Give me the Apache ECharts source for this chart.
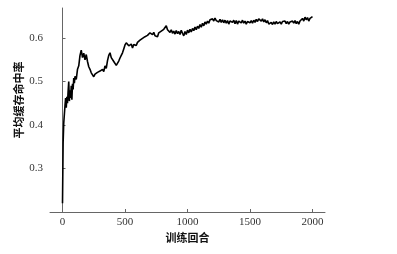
<!DOCTYPE html>
<html>
<head>
<meta charset="utf-8">
<script src="https://cdn.jsdelivr.net/npm/echarts@6/dist/echarts.min.js"></script>
<style>
html,body{margin:0;padding:0;background:#fff;}
#chart{width:397px;height:254px;}
</style>
</head>
<body>
<div id="chart"></div>
<script>
var episodes = [0,5,10,15,20,25,30,35,40,45,50,55,60,65,70,75,80,85,90,95,100,
110,120,130,140,150,160,170,180,190,200,210,220,230,240,250,260,270,280,290,300,
310,320,330,340,350,360,370,380,390,400,410,420,430,440,450,460,470,480,490,500,
510,520,530,540,550,560,570,580,590,600,610,620,630,640,650,660,670,680,690,700,
710,720,730,740,750,760,770,780,790,800,810,820,830,840,850,860,870,880,890,900,
910,920,930,940,950,960,970,980,990,1000,1010,1020,1030,1040,1050,1060,1070,1080,1090,1100,
1110,1120,1130,1140,1150,1160,1170,1180,1190,1200,1210,1220,1230,1240,1250,1260,1270,1280,1290,1300,
1310,1320,1330,1340,1350,1360,1370,1380,1390,1400,1410,1420,1430,1440,1450,1460,1470,1480,1490,1500,
1510,1520,1530,1540,1550,1560,1570,1580,1590,1600,1610,1620,1630,1640,1650,1660,1670,1680,1690,1700,
1710,1720,1730,1740,1750,1760,1770,1780,1790,1800,1810,1820,1830,1840,1850,1860,1870,1880,1890,1900,
1910,1920,1930,1940,1950,1960,1970,1980,1990,2000];

var hitRate = [0.220,0.360,0.405,0.425,0.445,0.462,0.440,0.465,0.450,0.478,0.500,0.455,0.480,0.462,0.490,0.458,0.495,0.482,0.508,0.496,0.512,
0.505,0.528,0.536,0.560,0.572,0.555,0.565,0.550,0.562,0.546,0.534,0.528,0.520,0.516,0.511,0.517,0.513,0.521,0.517,0.524,
0.520,0.528,0.523,0.536,0.530,0.548,0.560,0.566,0.555,0.553,0.546,0.545,0.537,0.535,0.547,0.554,0.560,0.566,0.575,0.584,
0.589,0.585,0.582,0.578,0.586,0.577,0.585,0.586,0.583,0.590,0.586,0.595,0.591,0.599,0.595,0.603,0.599,0.606,0.606,0.612,
0.615,0.608,0.613,0.605,0.609,0.603,0.612,0.608,0.616,0.612,0.620,0.622,0.628,0.619,0.618,0.613,0.619,0.611,0.616,0.609,
0.617,0.610,0.615,0.608,0.618,0.611,0.605,0.615,0.608,0.618,0.612,0.620,0.614,0.622,0.617,0.625,0.619,0.627,0.622,0.631,
0.625,0.634,0.628,0.637,0.632,0.639,0.634,0.642,0.638,0.644,0.639,0.646,0.640,0.644,0.637,0.643,0.636,0.642,0.635,0.641,
0.634,0.640,0.632,0.639,0.643,0.636,0.641,0.633,0.640,0.632,0.639,0.642,0.635,0.641,0.634,0.639,0.632,0.638,0.641,0.635,
0.640,0.634,0.641,0.636,0.643,0.638,0.644,0.646,0.639,0.644,0.637,0.642,0.635,0.640,0.632,0.630,0.636,0.631,0.637,0.632,
0.638,0.633,0.631,0.637,0.632,0.638,0.634,0.639,0.633,0.638,0.632,0.637,0.633,0.639,0.634,0.640,0.633,0.638,0.632,0.639,
0.642,0.645,0.639,0.648,0.642,0.647,0.639,0.645,0.641,0.649];

var xTicks = [0,500,1000,1500,2000];
var yTicks = [0.3,0.4,0.5,0.6];
var xName = '训练回合';
var yName = '平均缓存命中率';

var data = episodes.map(function(e,i){return [e, hitRate[i]];});

var chart = echarts.init(document.getElementById('chart'), null, {renderer:'canvas'});
var labelStyle = {fontFamily:'Liberation Serif', fontSize:11, color:'#333'};
chart.setOption({
  animation:false,
  backgroundColor:'#fff',
  grid:{left:50, right:72, top:8, bottom:42, containLabel:false},
  xAxis:{
    type:'value', min:-100, max:2100,
    name:xName, nameLocation:'middle', nameGap:20, nameMoveOverlap:false,
    nameTextStyle:{fontFamily:'Noto Sans CJK SC', fontSize:11, fontWeight:'bold', color:'#111'},
    axisLine:{show:true, lineStyle:{color:'#666', width:1}},
    axisTick:{show:true, inside:true, length:3, customValues:xTicks, lineStyle:{color:'#666'}},
    axisLabel:Object.assign({customValues:xTicks, margin:5, formatter:function(v){return String(v);}}, labelStyle),
    splitLine:{show:false}
  },
  yAxis:{
    type:'value', min:0.2, max:0.669,
    name:yName, nameLocation:'middle', nameGap:26, nameRotate:90, nameMoveOverlap:false,
    nameTextStyle:{fontFamily:'Noto Sans CJK SC', fontSize:11, fontWeight:'bold', color:'#111', padding:[0,0,0,20]},
    axisLine:{show:true, lineStyle:{color:'#666', width:1}},
    axisTick:{show:true, inside:true, length:3, customValues:yTicks, lineStyle:{color:'#666'}},
    axisLabel:Object.assign({customValues:yTicks, margin:7, formatter:function(v){return v.toFixed(1);}}, labelStyle),
    splitLine:{show:false}
  },
  series:[{
    type:'line', data:data, showSymbol:false, symbol:'none',
    lineStyle:{color:'#000', width:1.6}
  }]
});
</script>
</body>
</html>
